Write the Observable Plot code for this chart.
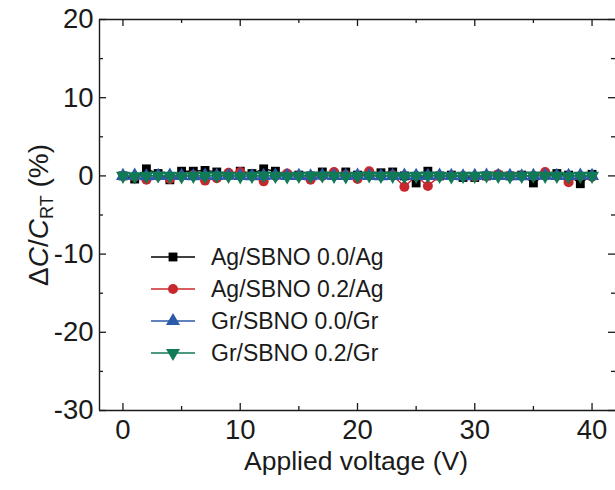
<!DOCTYPE html>
<html><head><meta charset="utf-8">
<script src="https://cdn.jsdelivr.net/npm/d3@7"></script>
<script src="https://cdn.jsdelivr.net/npm/@observablehq/plot@0.6"></script>
<style>body{margin:0;background:#fff} #chart{width:615px;height:490px}</style>
</head><body><div id="chart"></div>
<script>
const voltage = [0,1,2,3,4,5,6,7,8,9,10,11,12,13,14,15,16,17,18,19,20,21,22,23,24,25,26,27,28,29,30,31,32,33,34,35,36,37,38,39,40];
const agSbno00 = [0.0,-0.4,0.9,0.3,-0.5,0.6,0.6,0.7,0.5,0.1,0.6,0.3,0.9,0.6,0.1,0.1,0.0,0.5,0.2,0.5,0.1,0.2,0.4,0.5,0.0,-0.9,0.6,0.0,0.1,-0.2,-0.2,0.0,0.1,0.0,0.1,-0.9,0.1,0.3,0.1,-1.0,0.2];
const agSbno02 = [0.0,-0.1,-0.5,0.0,-0.4,0.0,0.1,-0.6,-0.3,0.4,0.5,0.0,-0.7,0.0,0.3,0.0,-0.5,0.0,0.5,0.1,-0.4,0.6,0.0,0.1,-1.4,0.0,-1.3,0.0,0.0,0.0,-0.1,0.0,0.2,0.0,0.0,0.0,0.5,0.0,-0.8,0.0,-0.1];
const grSbno00 = [0.0,0.05,-0.05,0.0,0.05,0.0,-0.05,0.05,0.0,0.05,0.0,-0.05,0.0,0.05,0.0,0.0,-0.05,0.05,0.0,0.0,0.05,0.0,-0.05,0.0,0.05,0.0,0.0,0.05,0.0,-0.05,0.0,0.05,0.0,0.0,-0.05,0.0,0.05,0.0,0.0,0.05,0.0];
const grSbno02 = [0.0,-0.05,0.0,0.05,0.0,-0.05,0.0,0.0,0.05,0.0,-0.05,0.0,0.05,0.0,-0.05,0.0,0.0,0.05,0.0,-0.05,0.0,0.05,0.0,0.0,-0.05,0.0,0.05,0.0,-0.05,0.0,0.0,0.05,0.0,-0.05,0.0,0.05,0.0,0.0,-0.05,0.0,0.0];
const seriesNames = ["Ag/SBNO 0.0/Ag","Ag/SBNO 0.2/Ag","Gr/SBNO 0.0/Gr","Gr/SBNO 0.2/Gr"];
const seriesColors = ["#000000","#c8282d","#2b5aa8","#107a56"];
const xMajorTicks = [0,10,20,30,40];
const xMinorTicks = [5,15,25,35];
const yMajorTicks = [-30,-20,-10,0,10,20];
const yMinorTicks = [-25,-15,-5,5,15];
const xDomain = [-2, 42];
const yDomain = [-30, 20];

const sqrt3 = Math.sqrt(3);
const triangleDown = {
  draw(ctx, size) {
    const y = -Math.sqrt(size / (sqrt3 * 3));
    ctx.moveTo(0, -y * 2);
    ctx.lineTo(-sqrt3 * y, y);
    ctx.lineTo(sqrt3 * y, y);
    ctx.closePath();
  }
};
const seriesSymbols = [d3.symbolSquare, d3.symbolCircle, d3.symbolTriangle, triangleDown];
const seriesValues = [agSbno00, agSbno02, grSbno00, grSbno02];
const seriesR = [5, 5, 5.2, 5.2];

const W = 615, H = 490, mL = 99, mR = 0, mT = 19, mB = 80;
const pw = W - mL - mR, ph = H - mT - mB;
const axisColor = "#1a1a1a";
const font = "'Liberation Sans', Arial, sans-serif";

const marks = [];
seriesNames.forEach((name, s) => {
  const rows = voltage.map((v, i) => ({v, value: seriesValues[s][i]}));
  marks.push(Plot.line(rows, {x: "v", y: "value", stroke: seriesColors[s], strokeWidth: 1.4}));
  marks.push(Plot.dot(rows, {x: "v", y: "value", r: seriesR[s], symbol: seriesSymbols[s], fill: seriesColors[s], stroke: "none"}));
});
marks.push(Plot.ruleX([xDomain[0]], {stroke: axisColor, strokeWidth: 1.4}));
marks.push(Plot.ruleY([yDomain[0], yDomain[1]], {stroke: axisColor, strokeWidth: 1.4}));
const tk = {stroke: axisColor, strokeWidth: 1.3};
marks.push(Plot.tickX(xMajorTicks, {x: d => d, insetTop: ph - 7, ...tk}));
marks.push(Plot.tickX(xMinorTicks, {x: d => d, insetTop: ph - 4, ...tk}));
marks.push(Plot.tickX(xMajorTicks, {x: d => d, insetBottom: ph - 7, ...tk}));
marks.push(Plot.tickX(xMinorTicks, {x: d => d, insetBottom: ph - 4, ...tk}));
marks.push(Plot.tickY(yMajorTicks, {y: d => d, insetRight: pw - 7, ...tk}));
marks.push(Plot.tickY(yMinorTicks, {y: d => d, insetRight: pw - 4, ...tk}));
marks.push(Plot.tickY(yMajorTicks, {y: d => d, insetLeft: pw - 7, ...tk}));
marks.push(Plot.tickY(yMinorTicks, {y: d => d, insetLeft: pw - 4, ...tk}));

const chart = Plot.plot({
  width: W, height: H,
  marginLeft: mL, marginRight: mR, marginTop: mT, marginBottom: mB,
  style: {fontFamily: font, fontSize: "27.5px", color: "#1a1a1a", background: "#fff", overflow: "visible"},
  x: {domain: xDomain, ticks: xMajorTicks, tickSize: 0, tickPadding: 9, label: null, tickFormat: d => String(d)},
  y: {domain: yDomain, ticks: yMajorTicks, tickSize: 0, tickPadding: 6, label: null, tickFormat: d => String(d)},
  marks
});
document.getElementById("chart").appendChild(chart);

const svg = d3.select(chart);
svg.append("text").attr("x", mL + pw / 2 - 1).attr("y", 470)
  .attr("text-anchor", "middle").attr("font-family", font).attr("font-size", 26.5).attr("fill", "#1a1a1a")
  .text("Applied voltage (V)");
const yt = svg.append("text").attr("transform", "translate(48,215) rotate(-90)")
  .attr("text-anchor", "middle").attr("font-family", font).attr("font-size", 28).attr("fill", "#1a1a1a");
yt.append("tspan").text("\u0394");
yt.append("tspan").attr("font-style", "italic").text("C");
yt.append("tspan").text("/");
yt.append("tspan").attr("font-style", "italic").text("C");
yt.append("tspan").attr("font-size", 18).attr("dy", 5).text("RT");
yt.append("tspan").attr("dy", -5).text(" (%)");

const lg = svg.append("g").attr("font-family", font).attr("font-size", 23).attr("fill", "#1a1a1a");
const rowY = [257, 289, 321, 353];
seriesNames.forEach((name, s) => {
  const g = lg.append("g").attr("transform", `translate(0,${rowY[s]})`);
  g.append("line").attr("x1", 151).attr("x2", 195).attr("y1", 0).attr("y2", 0)
    .attr("stroke", seriesColors[s]).attr("stroke-width", 1.4);
  g.append("path").attr("transform", "translate(173,0)")
    .attr("d", d3.symbol(seriesSymbols[s], seriesR[s] * seriesR[s] * Math.PI)())
    .attr("fill", seriesColors[s]);
  g.append("text").attr("x", 211).attr("dy", "0.36em").attr("text-anchor", "start").text(name);
});
</script></body></html>
